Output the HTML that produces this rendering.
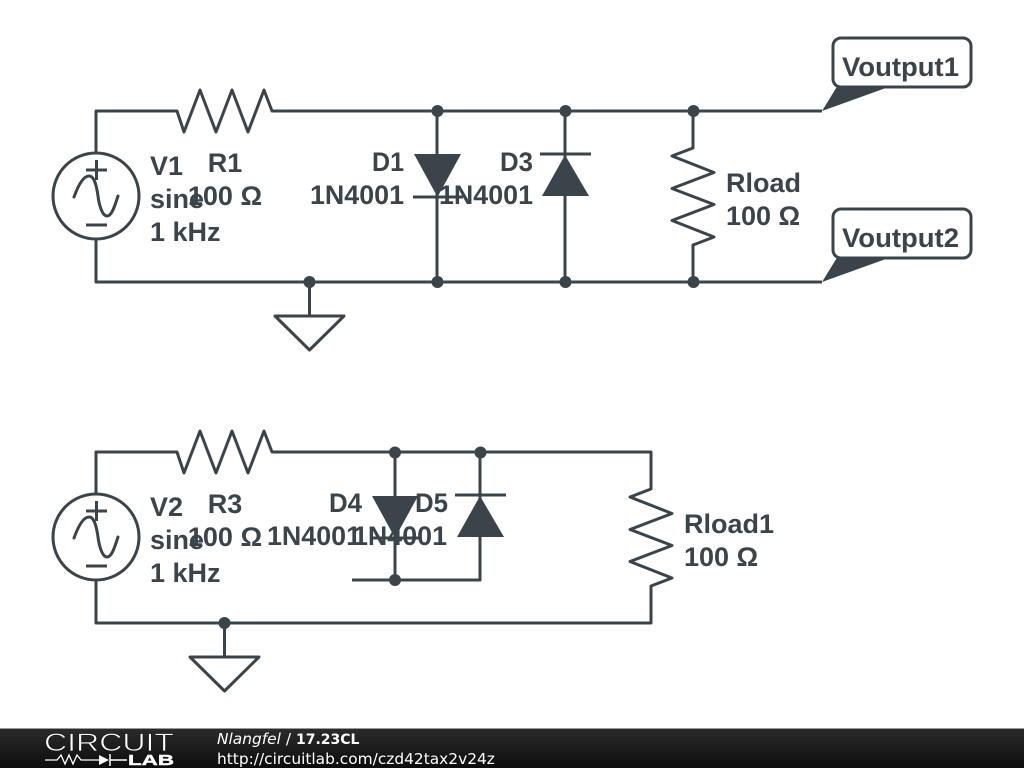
<!DOCTYPE html>
<html>
<head>
<meta charset="utf-8">
<style>
html,body{margin:0;padding:0;background:#fff;width:1024px;height:768px;overflow:hidden}
svg{display:block}
.w{fill:none;stroke:#3b444b;stroke-width:3;stroke-linejoin:round}
.t{fill:#3b444b;font-family:"Liberation Sans",Arial,sans-serif;font-weight:bold;font-size:27px}
.f{fill:#3b444b;stroke:none}
.b{font-family:"DejaVu Sans",sans-serif;font-size:15.4px;fill:#fff}
</style>
</head>
<body>
<svg width="1024" height="768" viewBox="0 0 1024 768" xmlns="http://www.w3.org/2000/svg">
<defs>
<linearGradient id="g" x1="0" y1="0" x2="0" y2="1"><stop offset="0" stop-color="#2c2c2c"/><stop offset="1" stop-color="#0c0c0c"/></linearGradient>
</defs>
<rect width="1024" height="768" fill="#fff"/>

<!-- Circuit 1 -->
<polyline class="w" points="96,153 96,111 177,111 184,132 200,90 216,132 232,90 248,132 264,90 272,111 822,111"/>
<polyline class="w" points="96,239 96,282 822,282"/>
<circle class="w" cx="96" cy="196" r="43"/>
<path class="w" d="M86 170H107M96.500 160V180M86 225H107"/>
<path class="w" d="M74 197C78 186 83 176 89 176C95 176 97 189 98 196C99 204 102 216 107 216C112 216 115 205 118 196" stroke-linecap="round"/>
<polyline class="w" points="437,111 437,282"/>
<polygon class="f" points="414,154 461,154 437.500,197"/>
<path class="w" d="M413 197H463"/>
<polyline class="w" points="565,111 565,282"/>
<polygon class="f" points="565,155 542,196 589,196"/>
<path class="w" d="M540 154H591"/>
<polyline class="w" points="693,111 693,148 672,156 714,172.500 672,188.500 714,204.500 672,220.500 714,237 693,245 693,282"/>
<path class="w" d="M309.500 282V316"/>
<polygon class="w" points="275,316 344,316 309.500,350"/>
<g class="f">
<circle cx="437.500" cy="111" r="6"/><circle cx="565.500" cy="111" r="6"/><circle cx="693.500" cy="111" r="6"/>
<circle cx="309.500" cy="282" r="6"/><circle cx="437.500" cy="282" r="6"/><circle cx="565.500" cy="282" r="6"/><circle cx="693.500" cy="282" r="6"/>
</g>
<polygon class="f" points="822,111 838,85 894,85"/>
<rect class="w" x="833" y="38" width="138" height="49" rx="8" style="fill:#fff"/>
<polygon class="f" points="822,282 838,256 894,256"/>
<rect class="w" x="833" y="209" width="138" height="49" rx="8" style="fill:#fff"/>

<text class="t" x="150" y="175">V1</text>
<text class="t" x="150" y="208">sine</text>
<text class="t" x="150" y="241">1 kHz</text>
<text class="t" x="225" y="172" text-anchor="middle">R1</text>
<text class="t" x="225" y="205" text-anchor="middle">100 Ω</text>
<text class="t" x="372" y="171" textLength="32" lengthAdjust="spacingAndGlyphs">D1</text>
<text class="t" x="310" y="204" textLength="94" lengthAdjust="spacingAndGlyphs">1N4001</text>
<text class="t" x="500" y="171" textLength="33" lengthAdjust="spacingAndGlyphs">D3</text>
<text class="t" x="439" y="204" textLength="94" lengthAdjust="spacingAndGlyphs">1N4001</text>
<text class="t" x="726" y="192">Rload</text>
<text class="t" x="726" y="225">100 Ω</text>
<text class="t" x="842" y="76" textLength="117" lengthAdjust="spacingAndGlyphs">Voutput1</text>
<text class="t" x="842" y="247" textLength="117" lengthAdjust="spacingAndGlyphs">Voutput2</text>

<!-- Circuit 2 -->
<polyline class="w" points="96,494 96,452 177,452 184,473 200,431 216,473 232,431 248,473 264,431 272,452 651,452 651,489 630,497 672,513.500 630,529.500 672,545.500 630,561.500 672,578 651,586 651,623 96,623 96,580"/>
<circle class="w" cx="96" cy="537" r="43"/>
<path class="w" d="M86 511H107M96.500 501V521M86 566H107"/>
<path class="w" d="M74 538C78 527 83 517 89 517C95 517 97 530 98 537C99 545 102 557 107 557C112 557 115 546 118 537" stroke-linecap="round"/>
<polyline class="w" points="395,452 395,580"/>
<polygon class="f" points="372,496 418,496 395,538"/>
<path class="w" d="M370 538H420"/>
<polyline class="w" points="480,452 480,580 352,580"/>
<polygon class="f" points="480,496 457,537 504,537"/>
<path class="w" d="M455 495H506"/>
<path class="w" d="M224.500 623V657"/>
<polygon class="w" points="190,657 259,657 224.500,691"/>
<g class="f">
<circle cx="395" cy="452.500" r="6"/><circle cx="480.500" cy="452.500" r="6"/><circle cx="395" cy="580" r="6"/><circle cx="224.500" cy="623" r="6"/>
</g>

<text class="t" x="150" y="516">V2</text>
<text class="t" x="150" y="549">sine</text>
<text class="t" x="150" y="582">1 kHz</text>
<text class="t" x="225" y="513" text-anchor="middle">R3</text>
<text class="t" x="225" y="546" text-anchor="middle">100 Ω</text>
<text class="t" x="329" y="512" textLength="33" lengthAdjust="spacingAndGlyphs">D4</text>
<text class="t" x="267" y="545" textLength="94" lengthAdjust="spacingAndGlyphs">1N4001</text>
<text class="t" x="415" y="512" textLength="33" lengthAdjust="spacingAndGlyphs">D5</text>
<text class="t" x="353" y="545" textLength="94" lengthAdjust="spacingAndGlyphs">1N4001</text>
<text class="t" x="684" y="533">Rload1</text>
<text class="t" x="684" y="566">100 Ω</text>

<!-- Footer -->
<rect x="0" y="728" width="1024" height="40" fill="url(#g)"/>
<rect x="0" y="728" width="1024" height="1" fill="#999"/>
<text x="44" y="751" font-family="'Liberation Sans',sans-serif" font-size="25" fill="#fff" stroke="#1c1c1c" stroke-width="0.7" textLength="130" lengthAdjust="spacingAndGlyphs" style="font-weight:normal">CIRCUIT</text>
<polyline points="45,760 57,760 61,755 65,764 69,755 73,764 77,755 81,760 99,760" fill="none" stroke="#fff" stroke-width="1.300"/>
<polygon points="99,755 109,760 99,765" fill="#fff"/>
<path d="M110 754V766M110 760H127" stroke="#fff" stroke-width="1.500" fill="none"/>
<text x="128" y="765" font-family="'Liberation Sans',sans-serif" font-weight="bold" font-size="15" fill="#fff" stroke="#fff" stroke-width="0.4" textLength="46" lengthAdjust="spacingAndGlyphs">LAB</text>
<text class="b" x="217" y="744"><tspan font-style="italic">Nlangfel</tspan> / <tspan x="296" font-weight="bold" font-size="14">17.23CL</tspan></text>
<text class="b" x="217" y="764">http://circuitlab.com/czd42tax2v24z</text>
</svg>
</body>
</html>
